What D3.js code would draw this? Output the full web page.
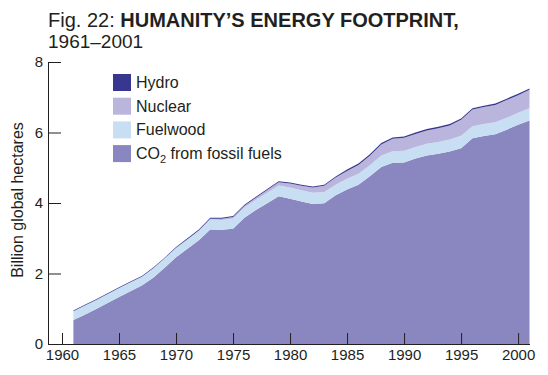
<!DOCTYPE html>
<html>
<head>
<meta charset="utf-8">
<title>Humanity's energy footprint</title>
<script src="https://d3js.org/d3.v7.min.js"></script>
<style>
  body { margin: 0; background: #fff; }
  svg { font-family: "Liberation Sans", Arial, Helvetica, sans-serif; }
  .axis text { font-size: 15px; fill: #231f20; }
  .axis path, .axis line { stroke: #231f20; stroke-width: 1; }
</style>
</head>
<body>
<div id="chart"></div>
<script>
// data (billion global hectares)
const years = d3.range(1961, 2002);
const co2 = [0.68, 0.83, 0.99, 1.16, 1.33, 1.50, 1.66, 1.88, 2.16, 2.46,
             2.70, 2.94, 3.25, 3.24, 3.27, 3.58, 3.80, 3.99, 4.19, 4.12,
             4.04, 3.97, 3.99, 4.22, 4.38, 4.52, 4.76, 5.02, 5.14, 5.15,
             5.26, 5.35, 5.40, 5.46, 5.55, 5.84, 5.90, 5.95, 6.08, 6.22, 6.34];
const fuelwood = [0.25, 0.26, 0.26, 0.26, 0.26, 0.25, 0.25, 0.26, 0.26, 0.26,
                  0.26, 0.27, 0.28, 0.28, 0.29, 0.29, 0.29, 0.30, 0.31, 0.32,
                  0.32, 0.32, 0.32, 0.30, 0.31, 0.31, 0.31, 0.33, 0.33, 0.33,
                  0.33, 0.33, 0.33, 0.34, 0.36, 0.34, 0.34, 0.34, 0.34, 0.34, 0.35];
const nuclear = [0, 0, 0, 0, 0, 0, 0, 0.01, 0.01, 0.01,
                 0.01, 0.01, 0.02, 0.03, 0.04, 0.05, 0.06, 0.08, 0.09, 0.11,
                 0.13, 0.15, 0.18, 0.20, 0.22, 0.25, 0.27, 0.31, 0.35, 0.37,
                 0.37, 0.38, 0.39, 0.40, 0.45, 0.47, 0.48, 0.49, 0.50, 0.50, 0.52];
const hydro = [0.02, 0.02, 0.02, 0.02, 0.02, 0.02, 0.02, 0.02, 0.02, 0.02,
               0.03, 0.03, 0.03, 0.03, 0.03, 0.03, 0.03, 0.03, 0.03, 0.03,
               0.03, 0.03, 0.03, 0.03, 0.04, 0.04, 0.04, 0.04, 0.04, 0.04,
               0.04, 0.04, 0.04, 0.04, 0.04, 0.04, 0.04, 0.04, 0.04, 0.04, 0.04];
const xTicks = [1960, 1965, 1970, 1975, 1980, 1985, 1990, 1995, 2000];
const yTicks = [0, 2, 4, 6, 8];

const keys = ["co2", "fuelwood", "nuclear", "hydro"];
const colors = { hydro: "#37378f", nuclear: "#b9b5dc", fuelwood: "#c8dff3", co2: "#8a86c0" };

const width = 548, height = 375;
const svg = d3.select("#chart").append("svg")
    .attr("width", width)
    .attr("height", height);

// scales
const x = d3.scaleLinear().domain([1960, 2001]).range([62, 529.5]);
const y = d3.scaleLinear().domain([0, 8]).range([344, 62]);

// stacked layers
const rows = years.map((yr, i) => ({
  year: yr, co2: co2[i], fuelwood: fuelwood[i], nuclear: nuclear[i], hydro: hydro[i]
}));
const series = d3.stack().keys(keys)(rows);

const area = d3.area()
    .x(d => x(d.data.year))
    .y0(d => y(d[0]))
    .y1(d => y(d[1]));

svg.append("g").selectAll("path")
  .data(series)
  .join("path")
    .attr("fill", d => colors[d.key])
    .attr("d", area);

// axes
svg.append("g")
    .attr("class", "axis")
    .attr("transform", "translate(0,344)")
    .call(d3.axisBottom(x).tickValues(xTicks).tickFormat(d3.format("d"))
      .tickSizeInner(-11).tickSizeOuter(0).tickPadding(5))
    .call(g => g.select(".domain").remove());

svg.append("line")
    .attr("x1", 48).attr("x2", 530)
    .attr("y1", 344.5).attr("y2", 344.5)
    .attr("stroke", "#231f20");

svg.append("g")
    .attr("class", "axis")
    .attr("transform", "translate(48,0)")
    .call(d3.axisLeft(y).tickValues(yTicks)
      .tickSizeInner(-13).tickSizeOuter(0).tickPadding(5));

// y label
svg.append("text")
    .attr("transform", "translate(23,200) rotate(-90)")
    .attr("text-anchor", "middle")
    .attr("font-size", 16)
    .attr("fill", "#231f20")
    .text("Billion global hectares");

// title
const title = svg.append("text")
    .attr("x", 48).attr("y", 27)
    .attr("font-size", 20)
    .attr("fill", "#231f20");
title.append("tspan").text("Fig. 22: ");
title.append("tspan").attr("font-weight", "bold").text("HUMANITY\u2019S ENERGY FOOTPRINT,");

svg.append("text")
    .attr("x", 48).attr("y", 48)
    .attr("font-size", 19)
    .attr("fill", "#231f20")
    .text("1961\u20132001");

// legend
const legendItems = [
  { key: "hydro", label: "Hydro" },
  { key: "nuclear", label: "Nuclear" },
  { key: "fuelwood", label: "Fuelwood" },
  { key: "co2", label: "CO2 from fossil fuels" }
];

const legend = svg.append("g")
    .attr("transform", "translate(113,74)");

legendItems.forEach((item, i) => {
  const row = legend.append("g")
      .attr("transform", `translate(0, ${i * 23.7})`);
  row.append("rect")
      .attr("width", 18)
      .attr("height", 17)
      .attr("fill", colors[item.key]);
  const t = row.append("text")
      .attr("x", 23)
      .attr("y", 14)
      .attr("font-size", 16)
      .attr("fill", "#231f20");
  if (item.key === "co2") {
    t.append("tspan").text("CO");
    t.append("tspan").attr("font-size", 11).attr("dy", 4).text("2");
    t.append("tspan").attr("dy", -4).text(" from fossil fuels");
  } else {
    t.text(item.label);
  }
});
</script>
</body>
</html>
